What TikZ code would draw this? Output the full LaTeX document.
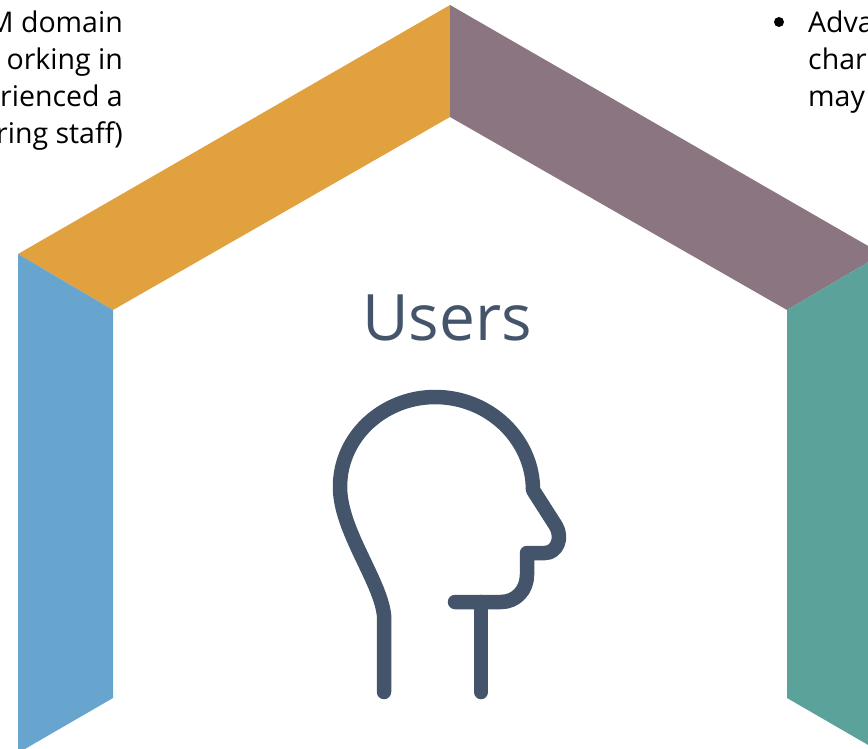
\documentclass[tikz,border=0pt]{standalone}
\usepackage{fontspec}
\setmainfont{Open Sans}
\definecolor{cOrange}{HTML}{E2A13F}
\definecolor{cPurple}{HTML}{8B7580}
\definecolor{cBlue}{HTML}{67A5CF}
\definecolor{cTeal}{HTML}{5BA39A}
\definecolor{cDark}{HTML}{44546A}
\tikzset{
  band/.style={draw=none},
  sidetext/.style={font=\fontsize{28.5}{34}\selectfont, text=black, inner sep=0pt},
  headline/.style={draw=cDark, line width=14.5pt, line cap=round, line join=round},
}
\begin{document}
\begin{tikzpicture}[x=1pt,y=-1pt]
\useasboundingbox (0,0) rectangle (868,749);
\clip (0,0) rectangle (868,749);
% bands
\fill[band, cOrange] (18,254) -- (450,5) -- (450,117) -- (113,310) -- cycle;
\fill[band, cPurple] (450,5) -- (882,254) -- (787,310) -- (450,117) -- cycle;
\fill[band, cBlue] (18,254) -- (113,310) -- (113,698) -- (18,753) -- cycle;
\fill[band, cTeal] (787,310) -- (882,254) -- (882,753) -- (787,698) -- cycle;
% left text
\node[sidetext, anchor=base east] (l1) at (123,33) {M domain};
\node[sidetext, anchor=base east] (l2) at (123,70) {orking in};
\node[sidetext, anchor=base east] (l3) at (123,107) {rienced a};
\node[sidetext, anchor=base east] (l4) at (123,144) {ring staff)};
% right text
\node[circle, fill=black, minimum size=10pt, inner sep=0pt] (rb) at (779,22) {};
\node[sidetext, anchor=base west] (r1) at (808,33) {Adva};
\node[sidetext, anchor=base west] (r2) at (808,70) {char};
\node[sidetext, anchor=base west] (r3) at (808,107) {may};
% title
\node[font=\fontsize{64}{64}\selectfont, text=cDark, inner sep=0pt, anchor=base] (users) at (447,340) {Users};
% head icon
\draw[headline] (384,692) -- (384,615)
  .. controls (380,580) and (340,530) .. (340,487)
  .. controls (340,435) and (385,397) .. (435,397)
  .. controls (490,397) and (533,440) .. (533,490)
  -- (556,526)
  .. controls (563,538) and (557,553) .. (545,553)
  -- (527,553) -- (527,575)
  .. controls (527,590) and (516,602) .. (501,602)
  -- (455,602);
\draw[headline] (481,602) -- (481,692);
\end{tikzpicture}
\end{document}
